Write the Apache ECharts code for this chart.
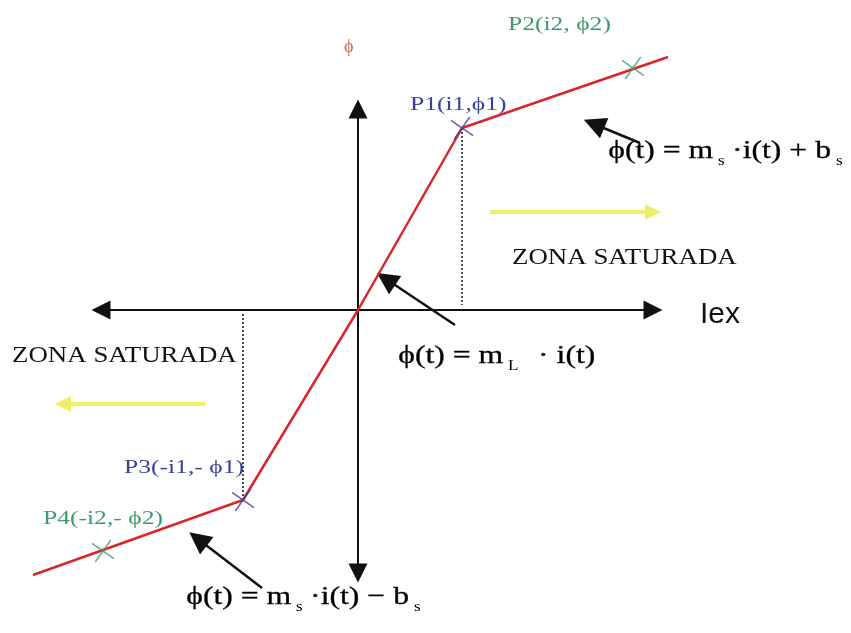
<!DOCTYPE html>
<html><head><meta charset="utf-8">
<script src="https://cdn.jsdelivr.net/npm/echarts@6/dist/echarts.min.js"></script>
<style>html,body{margin:0;padding:0;background:#fff}#c{width:851px;height:633px}</style>
</head><body><div id="c"></div>
<script>
// Characteristic curve (current i, flux phi), axis crossing at (0,0)
var curveX = [-3.25, -1.15, 0.00, 1.04, 3.10];
var curveY = [-2.65, -1.90, 0.00, 1.82, 2.53];
// Marked points
var pointNames = ['P1', 'P2', 'P3', 'P4'];
var pointX = [1.04, 2.75, -1.15, -2.55];
var pointY = [1.82, 2.42, -1.90, -2.41];
var pointColors = ['#3a3f9a', '#3d9a6e', '#3a3f9a', '#3d9a6e'];
var pointLabels = ['P1(i1,ϕ1)', 'P2(i2, ϕ2)', 'P3(-i1,- ϕ1)', 'P4(-i2,- ϕ2)'];
// Coordinate axes (double-headed arrows)
var hAxis = [[-2.57, 0], [2.95, 0]];
var vAxis = [[0, -2.63], [0, 2.01]];
// Annotation arrows [from, to]
var notes = [
  [[2.82, 1.67], [2.36, 1.86]],
  [[0.97, -0.15], [0.28, 0.31]],
  [[-0.96, -2.78], [-1.60, -2.29]]
];
// Saturation-zone arrows
var zoneArrows = [
  [[1.32, 0.98], [2.95, 0.98]],
  [[-1.53, -0.94], [-2.95, -0.94]]
];
// Projection (dotted) lines
var dropLines = [
  [[1.04, 1.82], [1.04, 0.05]],
  [[-1.15, -1.90], [-1.15, -0.02]]
];
var zoneText = 'ZONA SATURADA';
var axisTitleX = 'Iex';
var axisTitleY = 'ϕ';

var curve = curveX.map(function (x, k) { return [x, curveY[k]]; });
var serif = 'Liberation Serif';

function arrowSeries(pairs, color, width, size, both) {
  return {
    type: 'lines', coordinateSystem: 'cartesian2d', silent: true, z: 5,
    symbol: [both ? 'triangle' : 'none', 'triangle'], symbolSize: size,
    lineStyle: { color: color, width: width, opacity: 1 },
    itemStyle: { color: color },
    data: pairs.map(function (p) { return { coords: p }; })
  };
}
function formula(text, left, top, subGap) {
  return { type: 'text', left: left, top: top, scaleX: 1.22,
    style: { text: text, rich: {
      a: { font: '26px ' + serif, fill: '#000', stroke: '#000', lineWidth: 0.3 },
      s: { font: '14px ' + serif, fill: '#000', padding: [20, subGap, 0, 4] }
    } } };
}
function ptLabel(k, left, top) {
  return { type: 'text', left: left, top: top, scaleX: 1.42,
    style: { text: pointLabels[k], font: '18px ' + serif, fill: pointColors[k] } };
}

var chart = echarts.init(document.getElementById('c'), null, { renderer: 'canvas' });
chart.setOption({
  backgroundColor: '#ffffff',
  animation: false,
  grid: { left: 0, right: 0, top: 0, bottom: 0 },
  xAxis: { type: 'value', min: -3.58, max: 4.93, show: false },
  yAxis: { type: 'value', min: -3.23, max: 3.10, show: false },
  series: [
    {
      type: 'lines', coordinateSystem: 'cartesian2d', silent: true, z: 3,
      lineStyle: { color: '#222', width: 1.6, type: [2, 2], opacity: 1 },
      data: dropLines.map(function (p) { return { coords: p }; })
    },
    arrowSeries([hAxis, vAxis], '#111', 2, 19, true),
    arrowSeries(notes, '#111', 2.5, 22, false),
    arrowSeries(zoneArrows, '#f2ee6a', 4, 16, false),
    {
      type: 'line', data: curve, symbol: 'none', z: 6,
      lineStyle: { color: '#d8262c', width: 2.5 }
    },
    {
      type: 'scatter', z: 7,
      symbol: 'path://M0,0L10,10M10,0L0,10', symbolSize: 19, symbolRotate: 10,
      data: pointX.map(function (x, k) {
        return { name: pointNames[k], value: [x, pointY[k]],
          itemStyle: { color: 'none', borderColor: pointColors[k], borderWidth: 1.5 } };
      })
    }
  ],
  graphic: [
    { type: 'text', left: 344, top: 38, style: { text: axisTitleY, font: '18px ' + serif, fill: '#d05a5a' } },
    ptLabel(1, 508, 16),
    ptLabel(0, 410, 96),
    ptLabel(2, 124, 459),
    ptLabel(3, 43, 510),
    { type: 'text', left: 512, top: 246, scaleX: 1.12, style: { text: zoneText, font: '24px ' + serif, fill: '#111' } },
    { type: 'text', left: 12, top: 344, scaleX: 1.12, style: { text: zoneText, font: '24px ' + serif, fill: '#111' } },
    { type: 'text', left: 700, top: 300, style: { text: axisTitleX, font: '30px Liberation Sans', fill: '#111' } },
    formula('{a|ϕ(t) = m}{s|s}{a|·i(t) + b}{s|s}', 608, 138, 6),
    formula('{a|ϕ(t) = m}{s|L}{a|· i(t)}', 398, 343, 16),
    formula('{a|ϕ(t) = m}{s|s}{a|·i(t) − b}{s|s}', 186, 584, 6)
  ]
});
</script></body></html>
